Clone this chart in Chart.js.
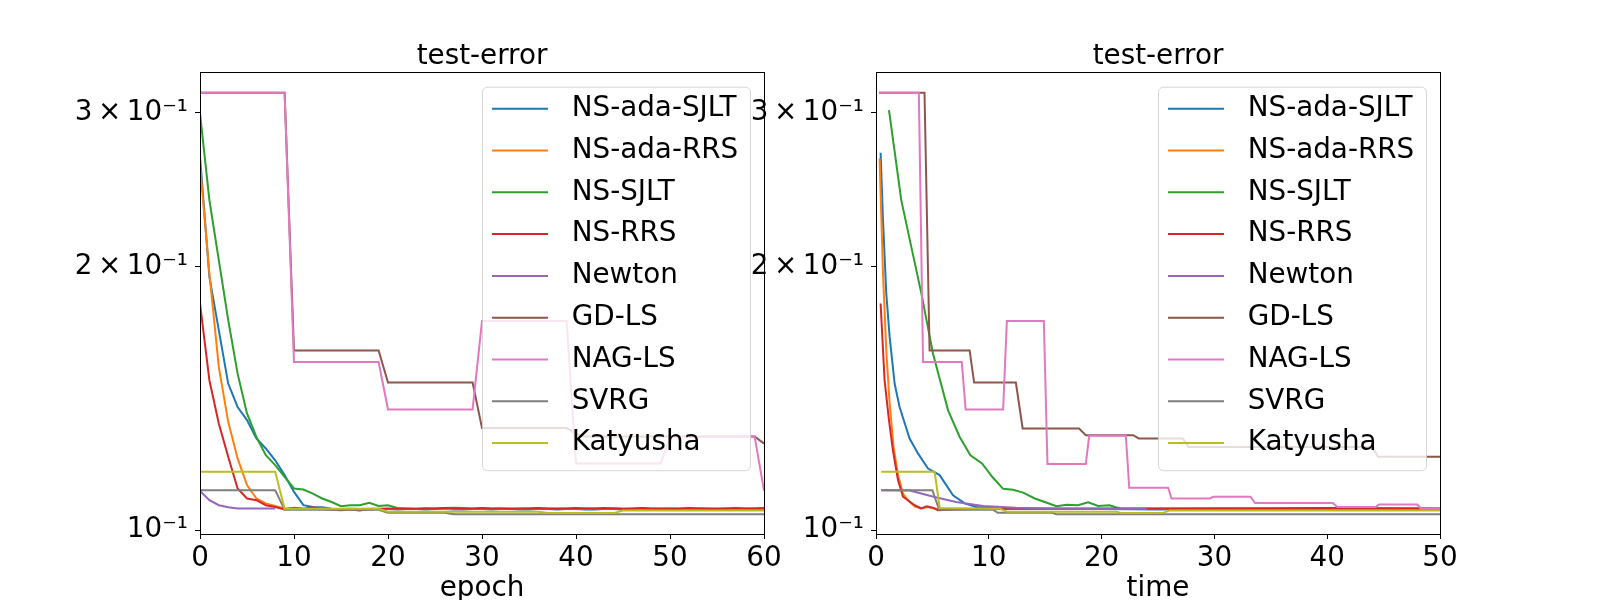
<!DOCTYPE html>
<html>
<head>
<meta charset="utf-8">
<script src="https://cdn.jsdelivr.net/npm/chart.js@4.4.1/dist/chart.umd.min.js"></script>
<style>
  body { margin: 0; background: #fff; }
  #wrap { position: relative; width: 1600px; height: 600px; overflow: hidden; background: #fff; }
  canvas { position: absolute; top: 0; }
  #leftChart { left: 0; }
  #rightChart { left: 700px; }
</style>
</head>
<body>
<div id="wrap">
  <canvas id="leftChart" width="800" height="600"></canvas>
  <canvas id="rightChart" width="900" height="600"></canvas>
</div>
<script>
// legend names and matplotlib tab10 colours
const methods = ['NS-ada-SJLT', 'NS-ada-RRS', 'NS-SJLT', 'NS-RRS', 'Newton', 'GD-LS', 'NAG-LS', 'SVRG', 'Katyusha'];
const colors = ['#1f77b4', '#ff7f0e', '#2ca02c', '#d62728', '#9467bd', '#8c564b', '#e377c2', '#7f7f7f', '#bcbd22'];

const panelTitle = 'test-error';
const yTickValues = [0.1, 0.2, 0.3];
const yTickLabels = ['10\u207b\u00b9', '2\u2009\u00d7\u200910\u207b\u00b9', '3\u2009\u00d7\u200910\u207b\u00b9'];

// ---- left panel: test-error per epoch ----
const epochs = [0, 1, 2, 3, 4, 5, 6, 7, 8, 9, 10, 11, 12, 13, 14, 15, 16, 17, 18, 19, 20,
  21, 22, 23, 24, 25, 26, 27, 28, 29, 30, 31, 32, 33, 34, 35, 36, 37, 38, 39, 40,
  41, 42, 43, 44, 45, 46, 47, 48, 49, 50, 51, 52, 53, 54, 55, 56, 57, 58, 59, 60];

const epochAdaSjlt = [0.2673, 0.1948, 0.1693, 0.1471, 0.1383, 0.1336, 0.1273, 0.1240, 0.1202, 0.1156,
  0.1106, 0.1068, 0.1063, 0.1062, 0.1058, 0.1057, 0.1058, 0.1057, 0.1056, 0.1057,
  0.1057, 0.1056, 0.1057, 0.1057, 0.1056, 0.1057, 0.1057, 0.1056, 0.1056, 0.1057,
  0.1057, 0.1056, 0.1057, 0.1057, 0.1056, 0.1056, 0.1057, 0.1057, 0.1056, 0.1057,
  0.1057, 0.1056, 0.1056, 0.1057, 0.1057, 0.1056, 0.1057, 0.1057, 0.1056, 0.1056,
  0.1057, 0.1057, 0.1056, 0.1057, 0.1057, 0.1056, 0.1056, 0.1057, 0.1057, 0.1056, 0.1057];
const epochAdaRrs = [0.2620, 0.1966, 0.1537, 0.1330, 0.1208, 0.1126, 0.1087, 0.1073, 0.1066, 0.1059,
  0.1060, 0.1058, 0.1057, 0.1058, 0.1057, 0.1056, 0.1057, 0.1057, 0.1058, 0.1057,
  0.1057, 0.1058, 0.1057, 0.1057, 0.1058, 0.1058, 0.1057, 0.1057, 0.1058, 0.1057,
  0.1058, 0.1057, 0.1057, 0.1058, 0.1057, 0.1057, 0.1058, 0.1057, 0.1057, 0.1058,
  0.1057, 0.1057, 0.1058, 0.1057, 0.1058, 0.1057, 0.1057, 0.1058, 0.1057, 0.1057,
  0.1058, 0.1057, 0.1057, 0.1058, 0.1057, 0.1058, 0.1057, 0.1057, 0.1058, 0.1057, 0.1058];
const epochSjlt = [0.2995, 0.2384, 0.2036, 0.1739, 0.1510, 0.1360, 0.1278, 0.1218, 0.1187, 0.1151,
  0.1116, 0.1113, 0.1101, 0.1087, 0.1077, 0.1065, 0.1068, 0.1068, 0.1075, 0.1066,
  0.1068, 0.1060, 0.1058, 0.1058, 0.1059, 0.1058, 0.1060, 0.1061, 0.1060, 0.1058,
  0.1059, 0.1058, 0.1059, 0.1058, 0.1058, 0.1059, 0.1058, 0.1058, 0.1059, 0.1058,
  0.1058, 0.1059, 0.1058, 0.1058, 0.1059, 0.1058, 0.1058, 0.1059, 0.1058, 0.1058,
  0.1059, 0.1058, 0.1058, 0.1059, 0.1058, 0.1058, 0.1059, 0.1058, 0.1058, 0.1059, 0.1058];
const epochRrs = [0.1816, 0.1484, 0.1324, 0.1213, 0.1116, 0.1087, 0.1082, 0.1068, 0.1063, 0.1056,
  0.1061, 0.1058, 0.1062, 0.1057, 0.1055, 0.1054, 0.1056, 0.1053, 0.1057, 0.1058,
  0.1059, 0.1058, 0.1059, 0.1058, 0.1059, 0.1059, 0.1060, 0.1059, 0.1058, 0.1059,
  0.1060, 0.1059, 0.1059, 0.1058, 0.1059, 0.1059, 0.1060, 0.1059, 0.1058, 0.1059,
  0.1060, 0.1059, 0.1059, 0.1060, 0.1059, 0.1058, 0.1059, 0.1060, 0.1059, 0.1059,
  0.1058, 0.1059, 0.1060, 0.1059, 0.1059, 0.1058, 0.1059, 0.1060, 0.1059, 0.1059, 0.1060];
const epochNewton = [0.1109, 0.1082, 0.1068, 0.1062, 0.1059, 0.1059, 0.1059, 0.1059, 0.1059];
const epochGdls = [0.3163, 0.3163, 0.3163, 0.3163, 0.3163, 0.3163, 0.3163, 0.3163, 0.3163, 0.3163,
  0.1605, 0.1605, 0.1605, 0.1605, 0.1605, 0.1605, 0.1605, 0.1605, 0.1605, 0.1605,
  0.1475, 0.1475, 0.1475, 0.1475, 0.1475, 0.1475, 0.1475, 0.1475, 0.1475, 0.1475,
  0.1309, 0.1309, 0.1309, 0.1309, 0.1309, 0.1309, 0.1309, 0.1309, 0.1309, 0.1309,
  0.1288, 0.1280, 0.1280, 0.1280, 0.1280, 0.1280, 0.1280, 0.1280, 0.1280, 0.1280,
  0.1280, 0.1280, 0.1280, 0.1280, 0.1280, 0.1280, 0.1280, 0.1280, 0.1280, 0.1280, 0.1256];
const epochNagls = [0.3163, 0.3163, 0.3163, 0.3163, 0.3163, 0.3163, 0.3163, 0.3163, 0.3163, 0.3163,
  0.1557, 0.1557, 0.1557, 0.1557, 0.1557, 0.1557, 0.1557, 0.1557, 0.1557, 0.1557,
  0.1374, 0.1374, 0.1374, 0.1374, 0.1374, 0.1374, 0.1374, 0.1374, 0.1374, 0.1374,
  0.1734, 0.1734, 0.1734, 0.1734, 0.1734, 0.1734, 0.1734, 0.1734, 0.1734, 0.1734,
  0.1192, 0.1192, 0.1192, 0.1192, 0.1192, 0.1192, 0.1192, 0.1192, 0.1192, 0.1192,
  0.1280, 0.1280, 0.1280, 0.1280, 0.1280, 0.1280, 0.1280, 0.1280, 0.1280, 0.1280, 0.1110];
const epochSvrg = [0.1111, 0.1111, 0.1111, 0.1111, 0.1111, 0.1111, 0.1111, 0.1111, 0.1111, 0.1055,
  0.1055, 0.1055, 0.1055, 0.1055, 0.1055, 0.1055, 0.1055, 0.1055, 0.1055, 0.1055,
  0.1047, 0.1047, 0.1047, 0.1047, 0.1047, 0.1047, 0.1047, 0.1043, 0.1043, 0.1043,
  0.1043, 0.1043, 0.1043, 0.1043, 0.1043, 0.1043, 0.1043, 0.1043, 0.1043, 0.1043,
  0.1043, 0.1043, 0.1043, 0.1043, 0.1043, 0.1043, 0.1043, 0.1043, 0.1043, 0.1043,
  0.1043, 0.1043, 0.1043, 0.1043, 0.1043, 0.1043, 0.1043, 0.1043, 0.1043, 0.1043, 0.1043];
const epochKatyusha = [0.1166, 0.1166, 0.1166, 0.1166, 0.1166, 0.1166, 0.1166, 0.1166, 0.1166, 0.1058,
  0.1058, 0.1058, 0.1058, 0.1058, 0.1058, 0.1058, 0.1058, 0.1058, 0.1058, 0.1058,
  0.1050, 0.1050, 0.1050, 0.1050, 0.1050, 0.1050, 0.1050, 0.1050, 0.1050, 0.1050,
  0.1050, 0.1050, 0.1050, 0.1050, 0.1050, 0.1050, 0.1050, 0.1046, 0.1046, 0.1046,
  0.1046, 0.1046, 0.1046, 0.1046, 0.1046, 0.1053, 0.1053, 0.1053, 0.1053, 0.1053,
  0.1053, 0.1053, 0.1053, 0.1053, 0.1053, 0.1053, 0.1053, 0.1053, 0.1053, 0.1053, 0.1053];

// ---- right panel: test-error against time ----
const timeAdaSjlt = [0.41, 0.62, 0.91, 1.21, 1.65, 2.09, 2.98, 3.72, 4.61, 5.64, 6.83, 7.86, 8.9, 10.1, 12, 15, 20, 25, 30, 35, 40, 45, 50];
const errAdaSjlt = [0.2700, 0.2262, 0.1865, 0.1663, 0.1471, 0.1383, 0.1273, 0.1224, 0.1176, 0.1156, 0.1096, 0.1073, 0.1063, 0.1061, 0.1058, 0.1057, 0.1057, 0.1056, 0.1057, 0.1057, 0.1056, 0.1057, 0.1057];
const timeAdaRrs = [0.32, 0.62, 0.91, 1.21, 1.56, 1.95, 2.39, 2.83, 3.42, 4.0, 4.6, 5.5, 8, 12, 20, 30, 40, 50];
const errAdaRrs = [0.2661, 0.1966, 0.1606, 0.1395, 0.1245, 0.1156, 0.1101, 0.1082, 0.1065, 0.1059, 0.1063, 0.1057, 0.1057, 0.1058, 0.1057, 0.1058, 0.1057, 0.1058];
const timeSjlt = [1.15, 2.24, 3.13, 4.02, 5.05, 6.39, 7.42, 8.37, 9.4, 10.3, 11.27, 12.15, 13.04, 14.08, 14.96, 16.0, 16.9, 17.9, 18.8, 19.7, 20.7, 21.6, 25, 30, 35, 40, 45, 50];
const errSjlt = [0.3022, 0.2384, 0.2108, 0.1865, 0.1592, 0.1371, 0.1278, 0.1218, 0.1192, 0.1151, 0.1115, 0.1112, 0.1104, 0.1087, 0.1077, 0.1065, 0.1069, 0.1068, 0.1076, 0.1066, 0.1068, 0.1059, 0.1058, 0.1059, 0.1058, 0.1058, 0.1059, 0.1058];
const timeRrs = [0.41, 0.76, 1.15, 1.5, 1.95, 2.39, 2.83, 3.42, 4.0, 4.5, 5.0, 5.5, 8, 12, 20, 30, 40, 50];
const errRrs = [0.1816, 0.1484, 0.1336, 0.1234, 0.1141, 0.1092, 0.1082, 0.1068, 0.1059, 0.1065, 0.1061, 0.1054, 0.1057, 0.1058, 0.1059, 0.1059, 0.1060, 0.1059];
const timeNewton = [0.45, 3.0, 5.1, 7.1, 9.5, 12.4, 15.4, 19, 24];
const errNewton = [0.1111, 0.1110, 0.1092, 0.1077, 0.1066, 0.1061, 0.1059, 0.1058, 0.1058];
const timeGdls = [0.26, 4.3, 4.75, 8.3, 8.7, 12.4, 13.0, 18.0, 18.6, 22.8, 23.3, 27.2, 27.7, 44.0, 44.5, 50];
const errGdls = [0.3163, 0.3163, 0.1605, 0.1605, 0.1475, 0.1475, 0.1307, 0.1307, 0.1284, 0.1284, 0.1273, 0.1273, 0.1245, 0.1245, 0.1213, 0.1213];
const timeNagls = [0.26, 3.8, 4.17, 7.6, 7.95, 11.27, 11.6, 14.88, 15.2, 18.6, 18.9, 22.15, 22.45, 25.9, 26.2, 29.6, 29.9, 33.2, 33.6, 40.5, 40.9, 44.3, 44.6, 48.0, 48.3, 50];
const errNagls = [0.3163, 0.3163, 0.1557, 0.1557, 0.1374, 0.1374, 0.1734, 0.1734, 0.1190, 0.1190, 0.1282, 0.1282, 0.1118, 0.1118, 0.1087, 0.1087, 0.1092, 0.1092, 0.1074, 0.1074, 0.1063, 0.1063, 0.1070, 0.1070, 0.1059, 0.1059];
const timeSvrg = [0.47, 5.0, 5.6, 10.4, 10.8, 15.6, 16.0, 50];
const errSvrg = [0.1111, 0.1111, 0.1055, 0.1055, 0.1047, 0.1047, 0.1043, 0.1043];
const timeKatyusha = [0.47, 5.2, 5.65, 11.0, 11.6, 21.3, 21.8, 25.4, 26.0, 50];
const errKatyusha = [0.1166, 0.1166, 0.1060, 0.1058, 0.1050, 0.1050, 0.1046, 0.1046, 0.1053, 0.1053];

const FONT = 'DejaVu Sans';
const FS = 27.8;

function pairs(xs, ys) {
  return ys.map((y, i) => ({ x: xs[i], y: y }));
}

function buildDatasets(series) {
  return series.map((pts, i) => ({
    label: methods[i],
    data: pts,
    borderColor: colors[i],
    backgroundColor: colors[i],
    borderWidth: 2,
    pointRadius: 0,
    tension: 0,
    fill: false,
    order: methods.length - i   // later series on top, like matplotlib
  }));
}

// black box round the plot area (matplotlib spines) and the centred title
const framePlugin = {
  id: 'frame',
  afterDatasetsDraw(chart) {
    const { ctx, chartArea: a } = chart;
    ctx.save();
    ctx.strokeStyle = '#000';
    ctx.lineWidth = 1;
    ctx.strokeRect(Math.round(a.left) + 0.5, Math.round(a.top) + 0.5,
      Math.round(a.right - a.left), Math.round(a.bottom - a.top));
    ctx.fillStyle = '#000';
    ctx.font = FS + 'px "' + FONT + '"';
    ctx.textAlign = 'center';
    ctx.textBaseline = 'alphabetic';
    ctx.fillText(panelTitle, (a.left + a.right) / 2, a.top - 7.7);
    ctx.restore();
  }
};

// legend drawn inside the plot, upper right
const boxLegend = {
  id: 'boxLegend',
  afterDraw(chart) {
    const { ctx, chartArea: a } = chart;
    const w = 268, h = 383.5, rowH = 41.8;
    const x0 = a.right - 14 - w, y0 = a.top + 14.7;
    ctx.save();
    ctx.beginPath();
    ctx.roundRect(x0 + 0.5, y0 + 0.5, w, h, 5);
    ctx.fillStyle = 'rgba(255,255,255,0.8)';
    ctx.fill();
    ctx.strokeStyle = 'rgba(204,204,204,0.8)';
    ctx.lineWidth = 1;
    ctx.stroke();
    ctx.font = FS + 'px "' + FONT + '"';
    ctx.textBaseline = 'middle';
    ctx.textAlign = 'left';
    chart.data.datasets.forEach((ds, i) => {
      const y = y0 + 22 + i * rowH;
      ctx.strokeStyle = ds.borderColor;
      ctx.lineWidth = 2;
      ctx.beginPath();
      ctx.moveTo(x0 + 10, y);
      ctx.lineTo(x0 + 66, y);
      ctx.stroke();
      ctx.fillStyle = '#000';
      ctx.fillText(ds.label, x0 + 89.7, y);
    });
    ctx.restore();
  }
};

function makeChart(canvas, datasets, xMax, xTitle, yWidth, padRight) {
  return new Chart(canvas, {
    type: 'line',
    data: { datasets: datasets },
    options: {
      responsive: false,
      animation: false,
      layout: { padding: { left: 0, right: padRight, top: 72, bottom: 0 } },
      plugins: {
        legend: { display: false },
        tooltip: { enabled: false },
        title: { display: false }
      },
      scales: {
        x: {
          type: 'linear',
          min: 0,
          max: xMax,
          ticks: { stepSize: 10, color: '#000', font: { family: FONT, size: FS }, padding: 3, maxRotation: 0 },
          grid: { drawOnChartArea: false, drawTicks: true, tickLength: 5, color: '#000', tickWidth: 1 },
          border: { display: false },
          title: {
            display: true,
            text: xTitle,
            color: '#000',
            font: { family: FONT, size: FS, lineHeight: 0.8 },
            padding: 0
          },
          afterFit(scale) { scale.height = 66; }
        },
        y: {
          type: 'logarithmic',
          min: 0.099,
          max: 0.334,
          afterBuildTicks(scale) {
            scale.ticks = yTickValues.map(v => ({ value: v }));
          },
          ticks: {
            color: '#000',
            font: { family: FONT, size: FS },
            padding: 7,
            autoSkip: false,
            callback: (v, i) => yTickLabels[i]
          },
          grid: { drawOnChartArea: false, drawTicks: true, tickLength: 5, color: '#000', tickWidth: 1 },
          border: { display: false },
          afterFit(scale) { scale.width = yWidth; }
        }
      }
    },
    plugins: [framePlugin, boxLegend]
  });
}

const leftSeries = [epochAdaSjlt, epochAdaRrs, epochSjlt, epochRrs, epochNewton,
  epochGdls, epochNagls, epochSvrg, epochKatyusha].map(vals => pairs(epochs, vals));

const rightSeries = [
  pairs(timeAdaSjlt, errAdaSjlt),
  pairs(timeAdaRrs, errAdaRrs),
  pairs(timeSjlt, errSjlt),
  pairs(timeRrs, errRrs),
  pairs(timeNewton, errNewton),
  pairs(timeGdls, errGdls),
  pairs(timeNagls, errNagls),
  pairs(timeSvrg, errSvrg),
  pairs(timeKatyusha, errKatyusha)
];

makeChart(document.getElementById('leftChart'), buildDatasets(leftSeries), 60, 'epoch', 200, 36);
makeChart(document.getElementById('rightChart'), buildDatasets(rightSeries), 50, 'time', 176, 160);
</script>
</body>
</html>
